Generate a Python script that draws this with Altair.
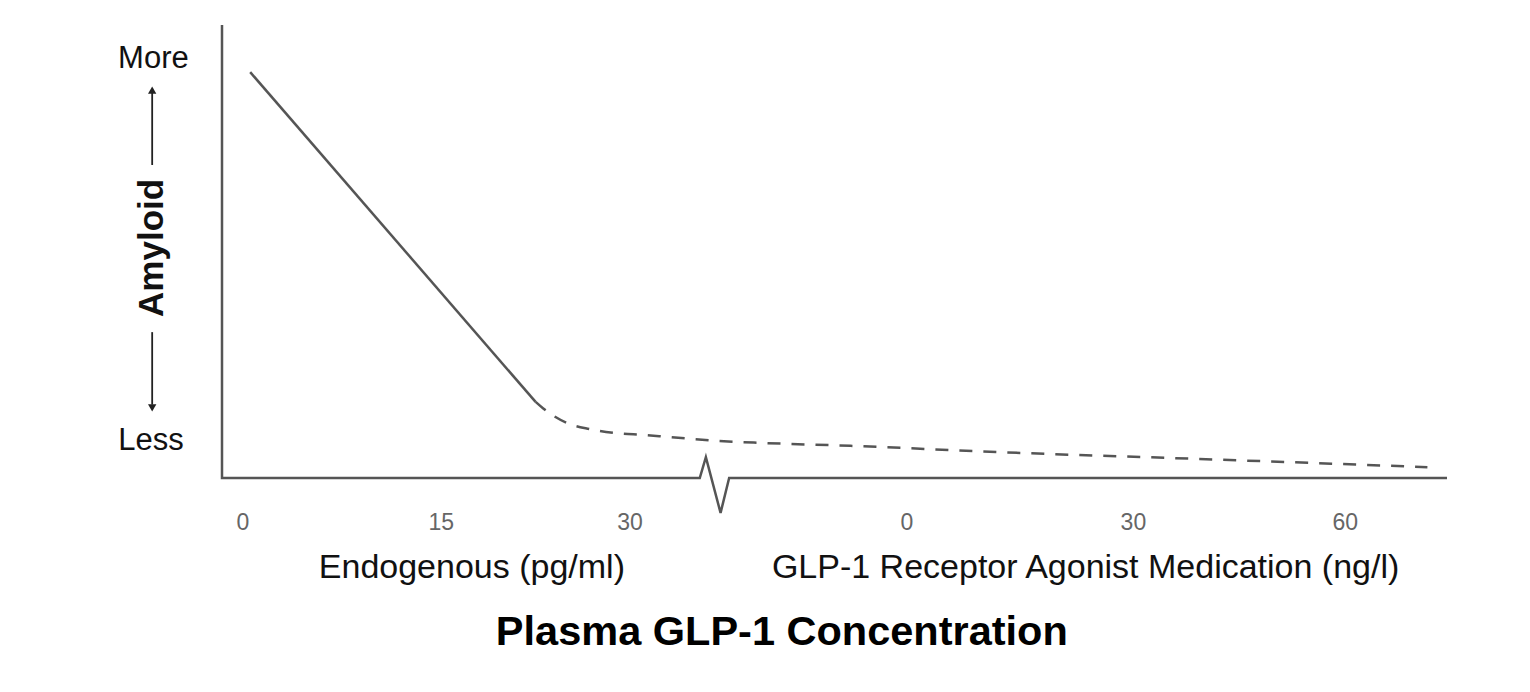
import altair as alt
import pandas as pd

# ---- data (schematic positions on a 0-100 plot scale) ----
solid_x = [2.3, 25.6]
solid_y = [89.6, 16.8]

dash_x = [25.6, 26.2, 28.2, 30.0, 32.2, 34.4, 36.3, 40.4, 44.5, 51.3, 63.5, 79.8, 98.4]
dash_y = [16.8, 15.4, 12.1, 10.8, 9.9, 9.5, 9.1, 8.2, 7.7, 7.1, 5.7, 4.2, 2.4]

axis_x = [0, 0, 39.0, 39.5, 40.7, 41.4, 100]
axis_y = [100, 0, 0, 4.6, -7.7, 0, 0]

endo_ticks = ["0", "15", "30"]
endo_tick_pos = [1.7, 17.9, 33.3]
med_ticks = ["0", "30", "60"]
med_tick_pos = [55.9, 74.4, 91.7]
tick_row = -9.9

x_titles = ["Endogenous (pg/ml)", "GLP-1 Receptor Agonist Medication (ng/l)"]
x_title_pos = [20.4, 70.5]
x_title_row = -19.9

main_title = "Plasma GLP-1 Concentration"
main_title_pos = [45.7, -34.2]

y_words = ["More", "Less"]
y_word_x = [-5.6, -5.8]
y_word_y = [92.5, 8.2]
y_title = "Amyloid"
y_title_pos = [-5.7, 50.8]

arrow_up = [69.1, 85.0]
arrow_down = [32.2, 16.2]
arrow_x = -5.7
head_y = [85.6, 15.5]
head_shape = ["triangle-up", "triangle-down"]

LINE = "#555555"
FONT = "Liberation Sans"

xs = alt.Scale(domain=[0, 100], nice=False, zero=False)
ys = alt.Scale(domain=[0, 100], nice=False, zero=False)
X = lambda f: alt.X(f, type="quantitative", scale=xs, axis=None)
Y = lambda f: alt.Y(f, type="quantitative", scale=ys, axis=None)

solid_df = pd.DataFrame({"x": solid_x, "y": solid_y, "i": range(len(solid_x))})
dash_df = pd.DataFrame({"x": dash_x, "y": dash_y, "i": range(len(dash_x))})
axis_df = pd.DataFrame({"x": axis_x, "y": axis_y, "i": range(len(axis_x))})
tick_df = pd.DataFrame({"x": endo_tick_pos + med_tick_pos, "y": [tick_row] * 6,
                        "t": endo_ticks + med_ticks})
xt_df = pd.DataFrame({"x": x_title_pos, "y": [x_title_row] * 2, "t": x_titles})
mt_df = pd.DataFrame({"x": [main_title_pos[0]], "y": [main_title_pos[1]], "t": [main_title]})
yw_df = pd.DataFrame({"x": y_word_x, "y": y_word_y, "t": y_words})
yt_df = pd.DataFrame({"x": [y_title_pos[0]], "y": [y_title_pos[1]], "t": [y_title]})
arr_df = pd.DataFrame({"x": [arrow_x] * 4, "y": arrow_up + arrow_down,
                       "g": ["u", "u", "d", "d"]})
head_df = pd.DataFrame({"x": [arrow_x] * 2, "y": head_y, "s": head_shape})

axis_line = alt.Chart(axis_df).mark_line(color=LINE, strokeWidth=2.5, strokeJoin="miter").encode(
    x=X("x"), y=Y("y"), order="i:Q")
solid = alt.Chart(solid_df).mark_line(color=LINE, strokeWidth=2.5).encode(
    x=X("x"), y=Y("y"), order="i:Q")
dashed = alt.Chart(dash_df).mark_line(color=LINE, strokeWidth=2.5, strokeDash=[13, 11],
                                      interpolate="monotone").encode(
    x=X("x"), y=Y("y"), order="i:Q")
ticks = alt.Chart(tick_df).mark_text(font=FONT, fontSize=23, color="#666666",
                                     baseline="middle", align="center").encode(
    x=X("x"), y=Y("y"), text="t:N")
xtitles = alt.Chart(xt_df).mark_text(font=FONT, fontSize=34, color="#111111",
                                     baseline="middle", align="center").encode(
    x=X("x"), y=Y("y"), text="t:N")
mtitle = alt.Chart(mt_df).mark_text(font=FONT, fontSize=41.5, fontWeight="bold", color="#000000",
                                    baseline="middle", align="center").encode(
    x=X("x"), y=Y("y"), text="t:N")
ywords = alt.Chart(yw_df).mark_text(font=FONT, fontSize=31, color="#111111",
                                    baseline="middle", align="center").encode(
    x=X("x"), y=Y("y"), text="t:N")
ytitle = alt.Chart(yt_df).mark_text(font=FONT, fontSize=35, fontWeight="bold", color="#111111",
                                    baseline="middle", align="center", angle=270).encode(
    x=X("x"), y=Y("y"), text="t:N")
arrows = alt.Chart(arr_df).mark_line(color="#222222", strokeWidth=1.8).encode(
    x=X("x"), y=Y("y"), detail="g:N")
heads = alt.Chart(head_df).mark_point(filled=True, color="#222222", size=70, opacity=1).encode(
    x=X("x"), y=Y("y"),
    shape=alt.Shape("s:N", scale=alt.Scale(domain=head_shape, range=head_shape), legend=None))

chart = alt.layer(axis_line, solid, dashed, ticks, xtitles, mtitle, ywords, ytitle, arrows, heads).properties(
    width=1225, height=453,
    autosize=alt.AutoSizeParams(type="none"),
    padding={"left": 214, "top": 17, "right": 60, "bottom": 200},
    background="white",
).configure_view(stroke=None)

chart.save("out.html", embed_options={"renderer": "svg", "actions": False})
